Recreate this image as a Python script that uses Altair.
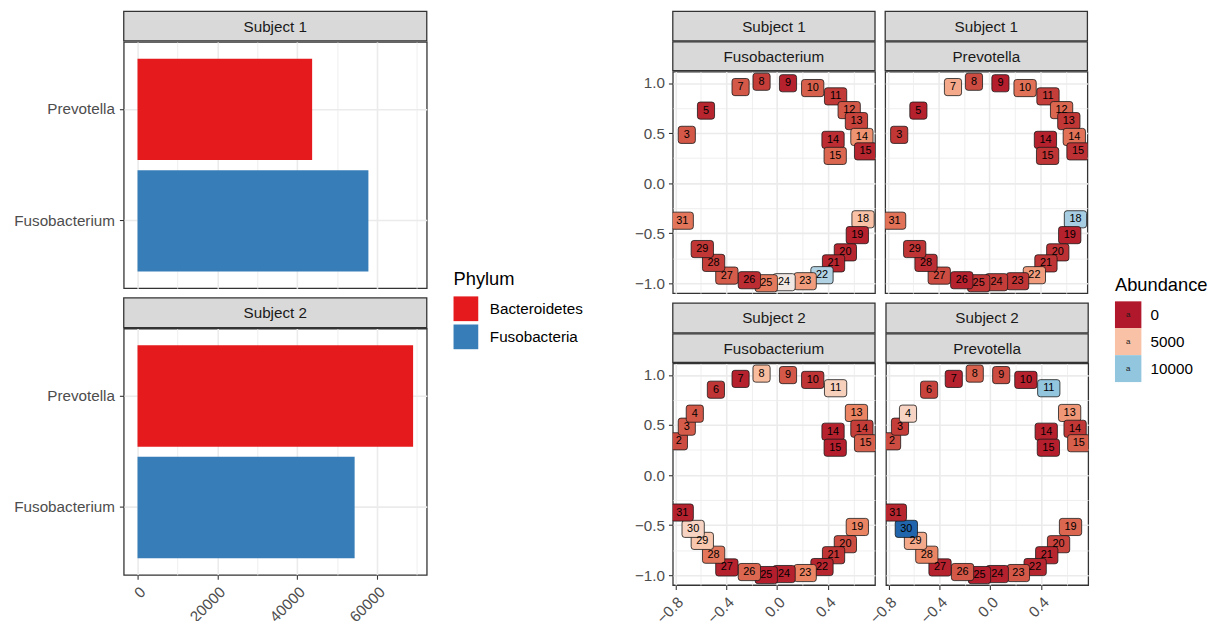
import altair as alt
import pandas as pd

FONT = "Liberation Sans"

# ---------------- data ----------------
phyla = ["Bacteroidetes", "Fusobacteria"]
phylum_colors = ["#E41A1C", "#377EB8"]

bar_subject = ["Subject 1", "Subject 1", "Subject 2", "Subject 2"]
bar_genus = ["Prevotella", "Fusobacterium", "Prevotella", "Fusobacterium"]
bar_phylum = ["Bacteroidetes", "Fusobacteria", "Bacteroidetes", "Fusobacteria"]
bar_abundance = [43750, 57850, 69050, 54400]

tooth_label = ["2", "3", "4", "5", "6", "7", "8", "9", "10", "11", "12", "13", "14", "15", "14", "15",
               "18", "19", "20", "21", "22", "23", "24", "25", "26", "27", "28", "29", "30", "31"]
tooth_x = [-0.772, -0.71, -0.647, -0.559, -0.481, -0.287, -0.122, 0.086, 0.28, 0.46, 0.567, 0.624,
           0.667, 0.696, 0.44, 0.457, 0.676, 0.631, 0.537, 0.444, 0.353, 0.221, 0.055, -0.085,
           -0.218, -0.395, -0.499, -0.588, -0.66, -0.746]
tooth_y = [0.337, 0.483, 0.613, 0.725, 0.852, 0.96, 1.013, 0.998, 0.95, 0.867, 0.73, 0.62,
           0.462, 0.318, 0.433, 0.273, -0.36, -0.518, -0.69, -0.8, -0.918, -0.978, -0.988, -0.998,
           -0.968, -0.922, -0.795, -0.657, -0.537, -0.374]

s1_fuso = [None, 1800, None, 300, None, 1800, 1000, 200, 2000, 900, 1800, 1200, 3500, 300, 500, 2200,
           5000, 200, 300, 300, 9200, 3800, 7200, 2700, 500, 1900, 1000, 800, None, 2600]
s1_prev = [None, 800, None, 200, None, 4200, 1500, 100, 2500, 1000, 2200, 800, 2500, 600, 200, 700,
           9500, 200, 600, 700, 3800, 700, 1000, 700, 200, 1500, 500, 700, None, 2500]
s2_fuso = [1500, 1900, 1800, None, 700, 200, 4800, 1800, 700, 5800, None, 3000, 1000, 2000, 200, 150,
           None, 3000, 1500, 700, 300, 3000, 200, 100, 2200, 200, 2600, 5300, 6000, 200]
s2_prev = [1500, 1000, 6000, None, 1200, 200, 2000, 1500, 200, 10000, None, 3600, 800, 2000, 200, 150,
           None, 2200, 1200, 300, 300, 1800, 200, 100, 1800, 200, 3000, 4200, 15000, 300]

abund_stops = [0, 1500, 3000, 5000, 7500, 10000, 15000]
abund_colors = ["#B2182B", "#CD4C41", "#EA8463", "#F9C2A6", "#EFEDEC", "#92C5DE", "#2166AC"]
legend_values = [0, 5000, 10000]
legend_labels = ["0", "5000", "10000"]

# ---------------- tables ----------------
bar_df = pd.DataFrame({"Subject": bar_subject, "Genus": bar_genus,
                       "Phylum": bar_phylum, "Abundance": bar_abundance})

rows = []
for subj, gen, vals in [("Subject 1", "Fusobacterium", s1_fuso), ("Subject 1", "Prevotella", s1_prev),
                        ("Subject 2", "Fusobacterium", s2_fuso), ("Subject 2", "Prevotella", s2_prev)]:
    for lab, x, y, v in zip(tooth_label, tooth_x, tooth_y, vals):
        if v is None:
            continue
        rows.append({"Subject": subj, "Genus": gen, "label": lab, "x": x, "y": y,
                     "Abundance": v, "digits": str(len(lab))})
teeth_df = pd.DataFrame(rows)

# ---------------- styles ----------------
STRIP_FILL = "#D9D9D9"
BORDER = "#333333"
BW = 1.3
VIEW = alt.ViewBackground(stroke=BORDER, strokeWidth=BW)
abund_scale = alt.Scale(domain=abund_stops, range=abund_colors, interpolate="lab")
phylum_scale = alt.Scale(domain=phyla, range=phylum_colors)

PATH1 = ("M -0.68 -1 L 0.68 -1 Q 1 -1 1 -0.68 L 1 0.68 Q 1 1 0.68 1 L -0.68 1 "
         "Q -1 1 -1 0.68 L -1 -0.68 Q -1 -1 -0.68 -1 Z")
PATH2 = ("M -0.98 -1 L 0.98 -1 Q 1.3 -1 1.3 -0.68 L 1.3 0.68 Q 1.3 1 0.98 1 L -0.98 1 "
         "Q -1.3 1 -1.3 0.68 L -1.3 -0.68 Q -1.3 -1 -0.98 -1 Z")


def cond(test, a, b):
    return {"condition": {"test": test, "value": a}, "value": b}


X_MAJ = "round(datum.value*10) % 4 == 0"
Y_MAJ = "round(datum.value*100) % 50 == 0"
B_MAJ = "datum.value % 20000 == 0"

dx_ticks = [-0.8, -0.6, -0.4, -0.2, 0, 0.2, 0.4, 0.6]
dy_ticks = [-1.0, -0.75, -0.5, -0.25, 0, 0.25, 0.5, 0.75, 1.0]
bx_ticks = [0, 10000, 20000, 30000, 40000, 50000, 60000, 70000]


def strip(label, width, height):
    base = alt.Chart(pd.DataFrame({"label": [label]}))
    rect = base.mark_rect(fill=STRIP_FILL, stroke=BORDER, strokeWidth=BW).encode(
        x=alt.value(0), x2=alt.value(width), y=alt.value(0), y2=alt.value(height))
    txt = base.mark_text(font=FONT, fontSize=15.4, color="#1A1A1A").encode(
        x=alt.value(width / 2), y=alt.value(height / 2 + 0.5), text="label:N")
    return alt.layer(rect, txt).properties(width=width, height=height)


# ---------------- bar panels ----------------
BAR_W, BAR_H = 306.3, 249


def bar_panel(subject, show_x):
    if show_x:
        xaxis = alt.Axis(values=bx_ticks, labelExpr=f"{B_MAJ} ? format(datum.value, 'd') : ''",
                         labelAngle=-45, labelAlign="right", labelBaseline="top", labelPadding=5,
                         labelOverlap=False, labelFlush=False, tickOpacity=cond(B_MAJ, 1, 0),
                         gridWidth=cond(B_MAJ, 1.6, 0.8), grid=True, domain=False, title=None)
    else:
        xaxis = alt.Axis(values=bx_ticks, labels=False, ticks=False, domain=False, grid=True,
                         gridWidth=cond(B_MAJ, 1.6, 0.8), title=None)
    return alt.Chart(bar_df).transform_filter(alt.datum.Subject == subject).mark_bar().encode(
        x=alt.X("Abundance:Q", scale=alt.Scale(domain=[-3451, 72472], nice=False, zero=False), axis=xaxis),
        x2=alt.datum(0),
        y=alt.Y("Genus:N", sort=["Prevotella", "Fusobacterium"],
                scale=alt.Scale(paddingInner=0.09, paddingOuter=0.15),
                axis=alt.Axis(bandPosition=0.5, grid=True, gridWidth=1.6, labelPadding=5,
                              domain=False, title=None)),
        color=alt.Color("Phylum:N", scale=phylum_scale, legend=None),
    ).properties(width=BAR_W, height=BAR_H, view=VIEW)


left = alt.vconcat(
    alt.vconcat(strip("Subject 1", BAR_W, 30), bar_panel("Subject 1", False), spacing=-BW),
    alt.vconcat(strip("Subject 2", BAR_W, 30), bar_panel("Subject 2", True), spacing=-BW),
    spacing=7.7,
)

# ---------------- dental panels ----------------
D_W, D_H = 204.4, 224


def dental_panel(subject, genus, show_x, show_y):
    if show_x:
        xaxis = alt.Axis(values=dx_ticks, labelExpr=f"{X_MAJ} ? format(datum.value, '.1f') : ''",
                         labelAngle=-45, labelAlign="right", labelBaseline="top", labelPadding=5,
                         labelOverlap=False, labelFlush=False, tickOpacity=cond(X_MAJ, 1, 0),
                         gridWidth=cond(X_MAJ, 1.6, 0.8), grid=True, domain=False, title=None)
    else:
        xaxis = alt.Axis(values=dx_ticks, labels=False, ticks=False, domain=False, grid=True,
                         gridWidth=cond(X_MAJ, 1.6, 0.8), title=None)
    if show_y:
        yaxis = alt.Axis(values=dy_ticks, labelExpr=f"{Y_MAJ} ? format(datum.value, '.1f') : ''",
                         labelPadding=4, labelOverlap=False, labelFlush=False,
                         tickOpacity=cond(Y_MAJ, 1, 0), gridWidth=cond(Y_MAJ, 1.6, 0.8),
                         grid=True, domain=False, title=None)
    else:
        yaxis = alt.Axis(values=dy_ticks, labels=False, ticks=False, domain=False, grid=True,
                         gridWidth=cond(Y_MAJ, 1.6, 0.8), title=None)
    x = alt.X("x:Q", scale=alt.Scale(domain=[-0.82, 0.77], nice=False, zero=False), axis=xaxis)
    y = alt.Y("y:Q", scale=alt.Scale(domain=[-1.098, 1.114], nice=False, zero=False), axis=yaxis)
    base = alt.Chart(teeth_df).transform_filter(
        (alt.datum.Subject == subject) & (alt.datum.Genus == genus))
    boxes = base.mark_point(filled=True, opacity=1, size=300, stroke="#1A1A1A", strokeWidth=0.8,
                            clip=True).encode(
        x=x, y=y,
        fill=alt.Fill("Abundance:Q", scale=abund_scale, legend=None),
        shape=alt.Shape("digits:N", scale=alt.Scale(domain=["1", "2"], range=[PATH1, PATH2]), legend=None),
    )
    txt = base.mark_text(font=FONT, fontSize=11, color="#000000", clip=True).encode(
        x=x, y=y, text="label:N")
    plot = alt.layer(boxes, txt).properties(width=D_W, height=D_H, view=VIEW)
    return alt.vconcat(strip(subject, D_W, 30), strip(genus, D_W, 29), plot, spacing=-BW)


# the bottom-right panel's rotated "-0.8" label reaches ~18px left of its plot;
# compensate so both rows keep the same panel gap
right = alt.vconcat(
    alt.hconcat(dental_panel("Subject 1", "Fusobacterium", False, True),
                dental_panel("Subject 1", "Prevotella", False, False), spacing=7.7),
    alt.hconcat(dental_panel("Subject 2", "Fusobacterium", True, True),
                dental_panel("Subject 2", "Prevotella", True, False), spacing=-10.5),
    spacing=8,
)

# ---------------- legends ----------------
LEG_H = 390
LEG_DY = 3.5


def phylum_legend(width, x0):
    df = pd.DataFrame({"Phylum": phyla})
    ysc = alt.Scale(domain=phyla, range=[283.0 + LEG_DY, 339.8 + LEG_DY], paddingInner=0.12, paddingOuter=0.06)
    keys = alt.Chart(df).mark_rect().encode(
        x=alt.value(x0), x2=alt.value(x0 + 25),
        y=alt.Y("Phylum:N", scale=ysc, axis=None),
        color=alt.Color("Phylum:N", scale=phylum_scale, legend=None))
    labs = alt.Chart(df).mark_text(align="left", font=FONT, fontSize=15.4, color="#000000").encode(
        x=alt.value(x0 + 36.7), y=alt.Y("Phylum:N", scale=ysc, axis=None), text="Phylum:N")
    title = alt.Chart(pd.DataFrame({"t": ["Phylum"]})).mark_text(
        align="left", font=FONT, fontSize=18.5, color="#000000").encode(
        x=alt.value(x0), y=alt.value(267 + LEG_DY), text="t:N")
    return alt.layer(keys, labs, title).properties(width=width, height=LEG_H)


def abundance_legend(width, x0):
    df = pd.DataFrame({"value": legend_values, "lab": legend_labels, "a": ["a"] * len(legend_values)})
    ysc = alt.Scale(domain=legend_values, range=[289.7 + LEG_DY, 371.3 + LEG_DY], paddingInner=0, paddingOuter=0)
    keys = alt.Chart(df).mark_rect().encode(
        x=alt.value(x0), x2=alt.value(x0 + 26.7),
        y=alt.Y("value:O", scale=ysc, axis=None),
        fill=alt.Fill("value:Q", scale=abund_scale, legend=None))
    akey = alt.Chart(df).mark_text(font=FONT, fontSize=8, color="#1A1A1A").encode(
        x=alt.value(x0 + 13.35), y=alt.Y("value:O", scale=ysc, axis=None), text="a:N")
    labs = alt.Chart(df).mark_text(align="left", font=FONT, fontSize=15.4, color="#000000").encode(
        x=alt.value(x0 + 36), y=alt.Y("value:O", scale=ysc, axis=None), text="lab:N")
    title = alt.Chart(pd.DataFrame({"t": ["Abundance"]})).mark_text(
        align="left", font=FONT, fontSize=18.5, color="#000000").encode(
        x=alt.value(x0), y=alt.value(273 + LEG_DY), text="t:N")
    return alt.layer(keys, akey, labs, title).properties(width=width, height=LEG_H)


chart = alt.hconcat(
    left,
    phylum_legend(206.4, 25.35),
    right,
    abundance_legend(110, 25.95),
    spacing=0,
).properties(
    padding={"left": 5, "top": -1, "right": 0, "bottom": -10},
    background="white",
).configure_view(
    stroke=None
).configure_axis(
    labelFont=FONT, labelFontSize=15.4, labelColor="#4D4D4D",
    tickColor=BORDER, tickWidth=1.1, tickSize=4.4,
    gridColor="#EBEBEB",
)

chart.save("out.html", embed_options={"renderer": "svg", "actions": False})
